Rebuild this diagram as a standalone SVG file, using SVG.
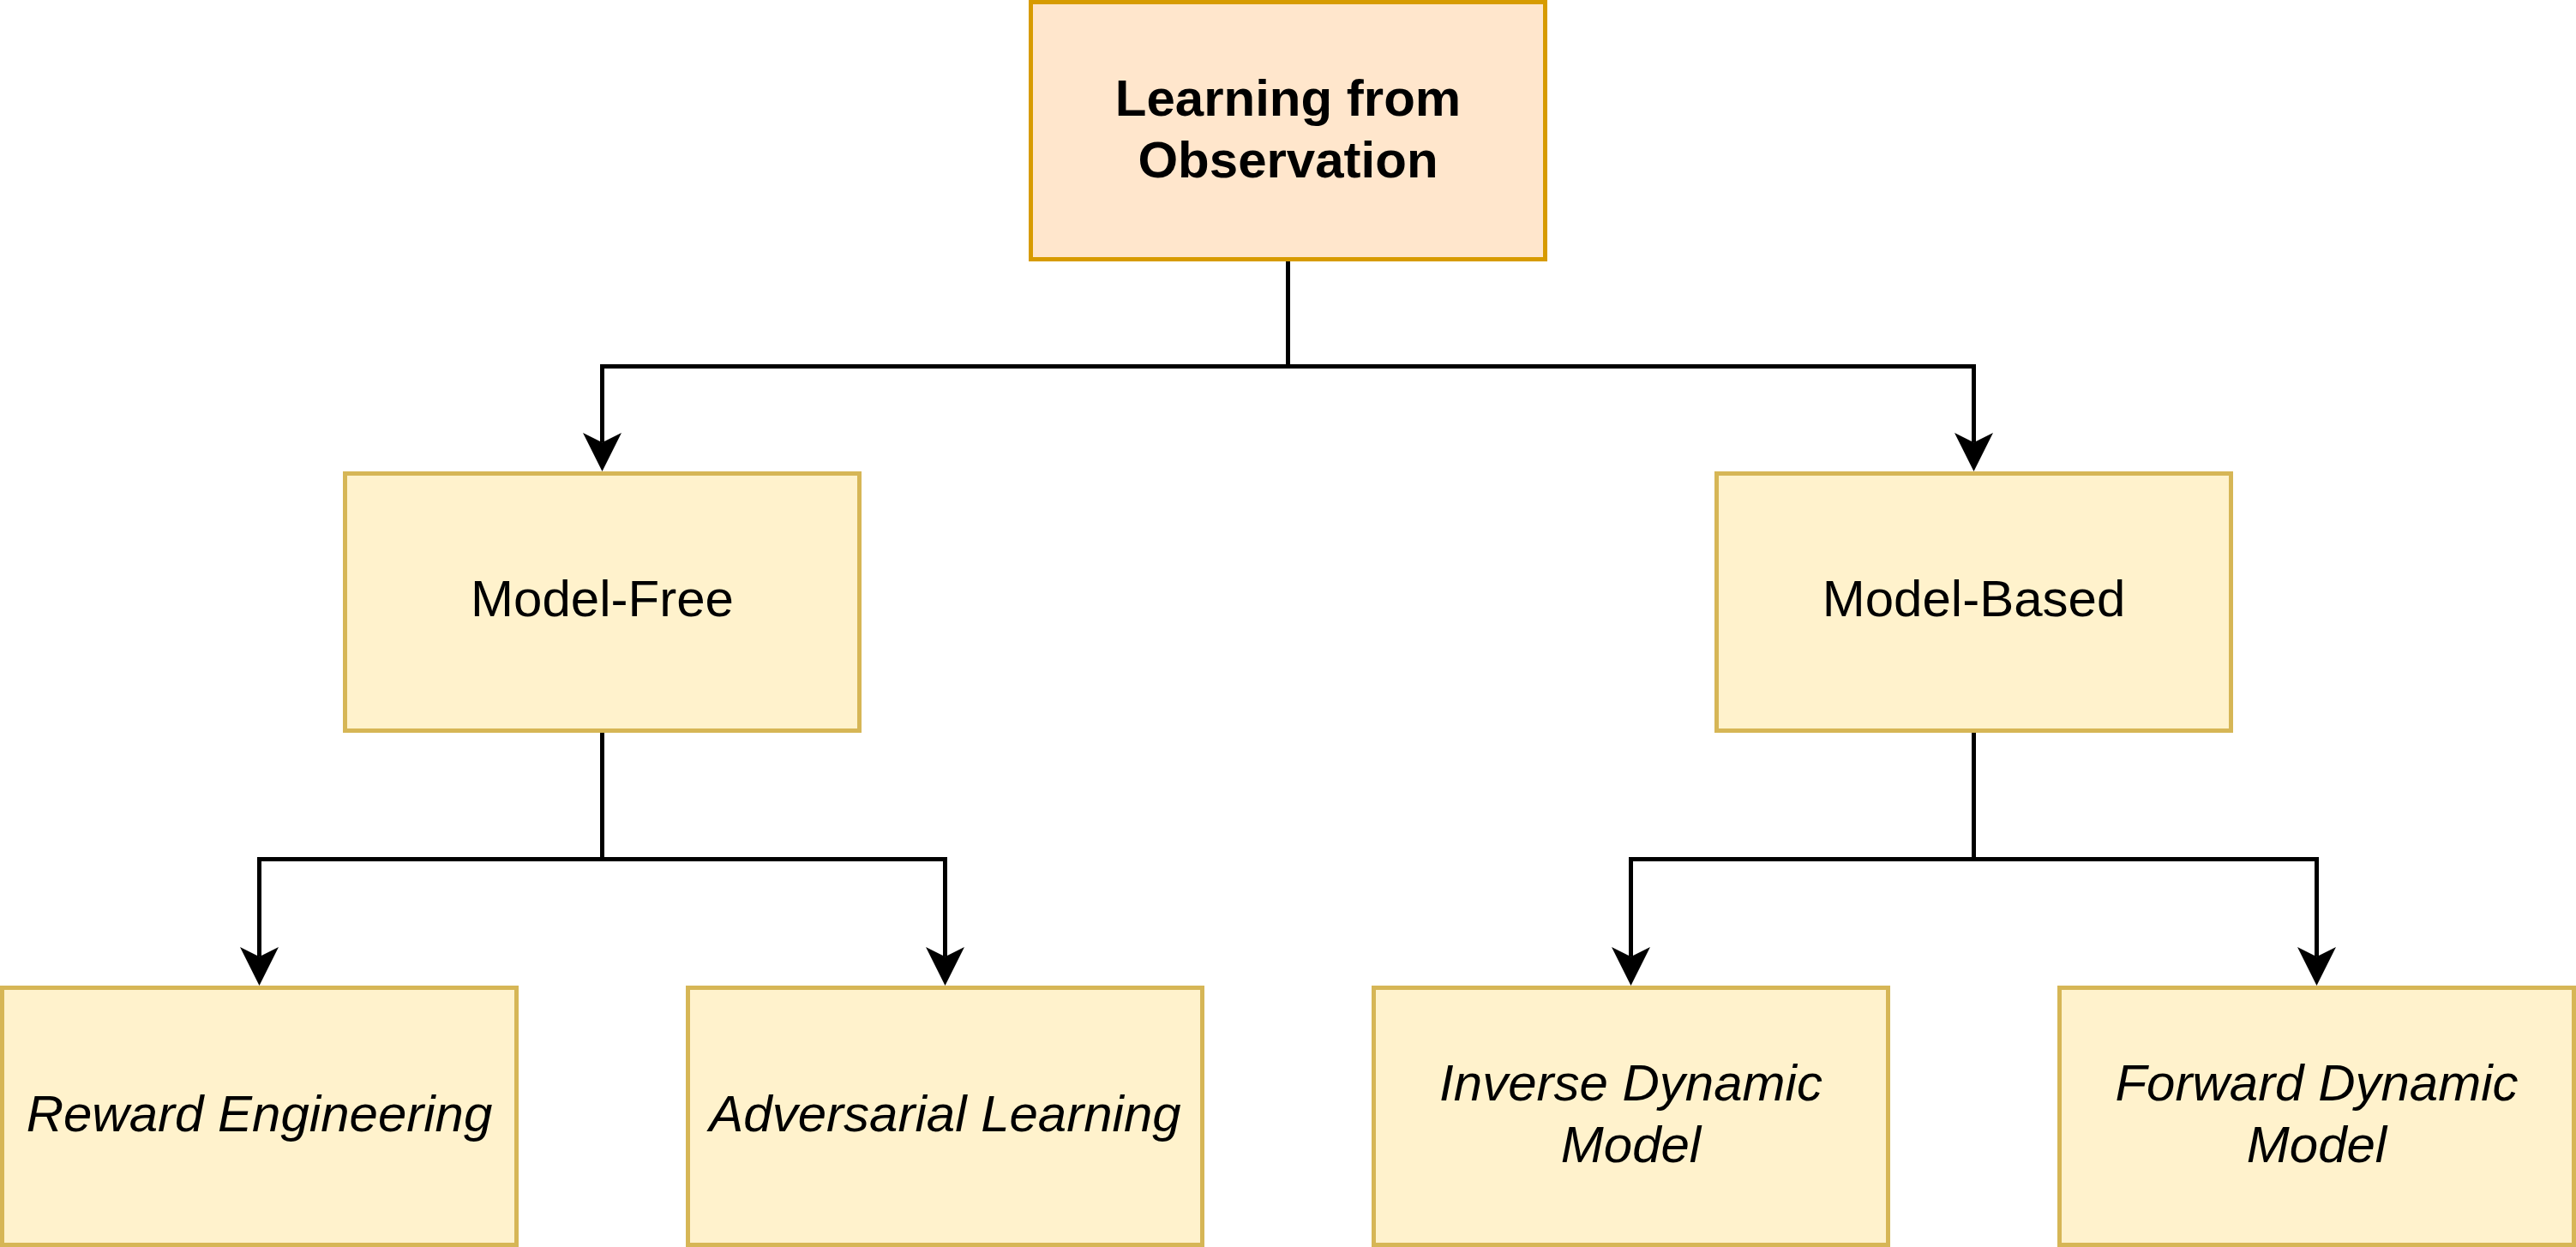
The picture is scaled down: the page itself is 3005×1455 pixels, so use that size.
<svg xmlns="http://www.w3.org/2000/svg" width="3005" height="1455" viewBox="0 0 3005 1455">
<style>
.root{fill:#ffe6cc;stroke:#d79b00;stroke-width:5}
.box{fill:#fff2cc;stroke:#d6b656;stroke-width:5}
.t{font-family:"Liberation Sans",Arial,Helvetica,sans-serif;font-size:60px;fill:#000;text-anchor:middle}
.b{font-weight:bold}
.i{font-style:italic}
.edge{fill:none;stroke:#000;stroke-width:5;stroke-linejoin:miter;stroke-linecap:butt}
</style>
<defs>
<marker id="arrow" markerUnits="userSpaceOnUse" viewBox="0 0 45 45" markerWidth="45" markerHeight="45" refX="11.25" refY="22.5" orient="auto">
<path d="M0,0 L45,22.5 L0,45 L11.25,22.5 Z" fill="#000"/>
</marker>
</defs>
<rect width="3005" height="1455" fill="#ffffff"/>
<g id="connectors">
<path class="edge" marker-end="url(#arrow)" d="M1502.5 305 V427.5 H702.5 V516.25"/>
<path class="edge" marker-end="url(#arrow)" d="M1502.5 305 V427.5 H2302.5 V516.25"/>
<path class="edge" marker-end="url(#arrow)" d="M702.5 855 V1002.5 H302.5 V1116.25"/>
<path class="edge" marker-end="url(#arrow)" d="M702.5 855 V1002.5 H1102.5 V1116.25"/>
<path class="edge" marker-end="url(#arrow)" d="M2302.5 855 V1002.5 H1902.5 V1116.25"/>
<path class="edge" marker-end="url(#arrow)" d="M2302.5 855 V1002.5 H2702.5 V1116.25"/>
</g>
<g id="learning-from-observation">
<rect class="root" x="1202.5" y="2.5" width="600" height="300"/>
<text class="t b" x="1502.5" y="135">Learning from</text>
<text class="t b" x="1502.5" y="207">Observation</text>
</g>
<g id="model-free">
<rect class="box" x="402.5" y="552.5" width="600" height="300"/>
<text class="t" x="702.5" y="719">Model-Free</text>
</g>
<g id="model-based">
<rect class="box" x="2002.5" y="552.5" width="600" height="300"/>
<text class="t" x="2302.5" y="719">Model-Based</text>
</g>
<g id="reward-engineering">
<rect class="box" x="2.5" y="1152.5" width="600" height="300"/>
<text class="t i" x="302.5" y="1320">Reward Engineering</text>
</g>
<g id="adversarial-learning">
<rect class="box" x="802.5" y="1152.5" width="600" height="300"/>
<text class="t i" x="1102.5" y="1320">Adversarial Learning</text>
</g>
<g id="inverse-dynamic-model">
<rect class="box" x="1602.5" y="1152.5" width="600" height="300"/>
<text class="t i" x="1902.5" y="1284">Inverse Dynamic</text>
<text class="t i" x="1902.5" y="1356">Model</text>
</g>
<g id="forward-dynamic-model">
<rect class="box" x="2402.5" y="1152.5" width="600" height="300"/>
<text class="t i" x="2702.5" y="1284">Forward Dynamic</text>
<text class="t i" x="2702.5" y="1356">Model</text>
</g>
</svg>
